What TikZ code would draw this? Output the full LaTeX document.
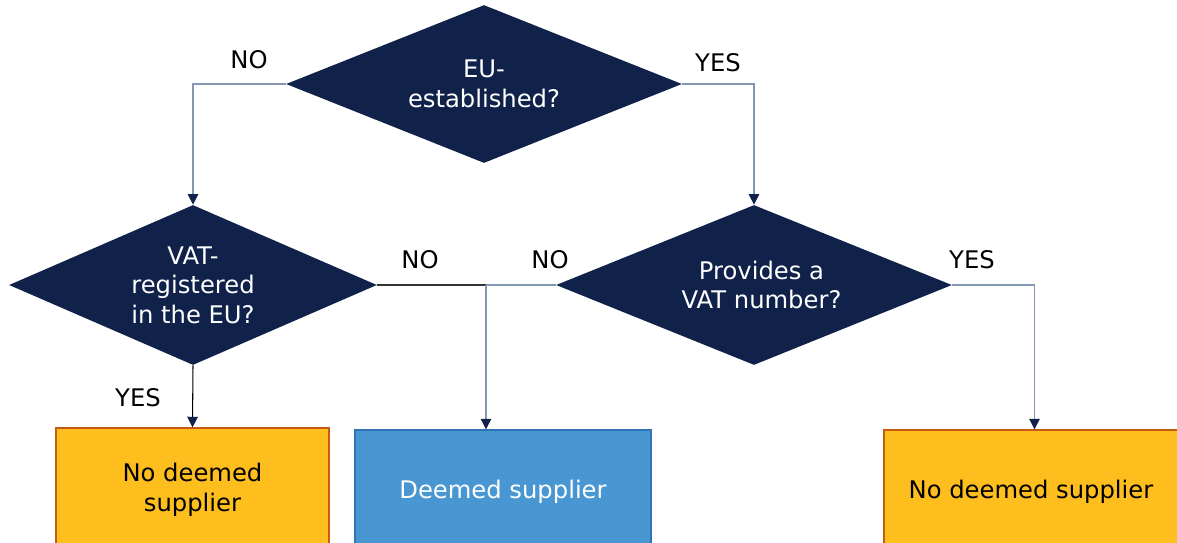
\documentclass[tikz,border=0pt]{standalone}
\usepackage{fontspec}
\setmainfont{DejaVu Sans}
\usetikzlibrary{shapes.geometric,arrows.meta}

\definecolor{navy}{HTML}{10224A}
\definecolor{linegrey}{HTML}{8497B0}
\definecolor{amber}{HTML}{FEBE1E}
\definecolor{amberedge}{HTML}{C55A11}
\definecolor{skyblue}{HTML}{4896D2}
\definecolor{skyedge}{HTML}{2E75B6}

\tikzset{
  question/.style={diamond, fill=navy, text=white, inner sep=0pt, aspect=2.4,
    align=center, font=\fontsize{13.8}{16.8}\selectfont},
  outcome/.style={rectangle, line width=0.8pt, inner sep=0pt, align=center,
    minimum height=2.48cm, font=\fontsize{13.8}{16.8}\selectfont},
  answer/.style={inner sep=0pt, font=\fontsize{13.8}{16.8}\selectfont},
  link/.style={draw=linegrey, line width=0.6pt,
    -{Triangle[width=6pt,length=6pt,color=navy]}},
  plain/.style={draw=linegrey, line width=0.6pt}
}

\begin{document}
\begin{tikzpicture}[x=0.02cm,y=-0.02cm]
  \useasboundingbox (0,0) rectangle (1177,542);
  \clip (0,0) rectangle (1177,542);

  \node (estab) at (484,84) [question, minimum width=7.92cm, minimum height=3.16cm, font=\fontsize{13.8}{17.2}\selectfont] {EU-\\established?};
  \node (vatreg) at (193,285) [question, minimum width=7.36cm, minimum height=3.2cm] {VAT-\\registered\\in the EU?};
  \node (vatnum) at (754,285) [question, minimum width=7.92cm, minimum height=3.2cm] {\hspace{0.3cm}Provides a\\\hspace{0.3cm}VAT number?};

  \node (nodeemedA) at (192.5,490) [outcome, fill=amber, draw=amberedge, minimum width=5.46cm] {No deemed\\supplier};
  \node (deemed) at (503,492) [outcome, fill=skyblue, draw=skyedge, text=white, minimum width=5.92cm] {Deemed supplier};
  \node (nodeemedB) at (1031,492) [outcome, fill=amber, draw=amberedge, minimum width=5.88cm] {No deemed supplier};

  \node (noA) at (249,60) [answer] {NO};
  \node (yesA) at (718,63) [answer] {YES};
  \node (noB) at (420,260) [answer] {NO};
  \node (noC) at (550,260) [answer] {NO};
  \node (yesB) at (972,260) [answer] {YES};
  \node (yesC) at (138,398) [answer] {YES};

  \coordinate (join) at (486,285);

  \draw[link] (estab.west) -| (vatreg.north);
  \draw[link] (estab.east) -| (vatnum.north);
  \draw[link, draw=black] (vatreg.south) -- (nodeemedA.north);
  \draw[plain, draw=black!80] (vatreg.east) -- (join);
  \draw[plain] (vatnum.west) -- (join);
  \draw[link] (join) -- (join |- deemed.north);
  \draw[link] (vatnum.east) -| ([xshift=2pt]nodeemedB.north);
\end{tikzpicture}
\end{document}
